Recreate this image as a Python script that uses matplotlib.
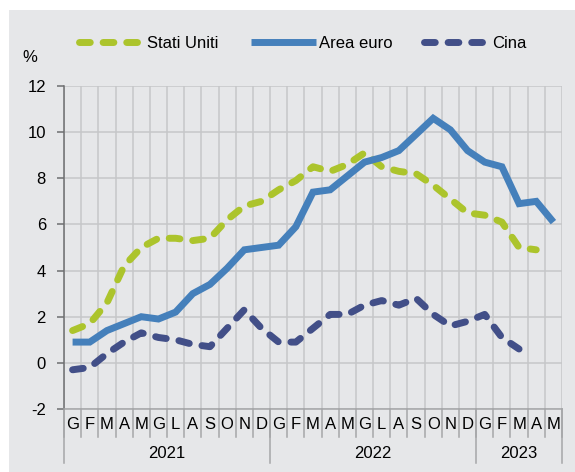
import matplotlib
matplotlib.use("Agg")
import matplotlib.pyplot as plt
from matplotlib.patches import Rectangle
import matplotlib.transforms as mtransforms

plt.rcParams['font.family'] = ['Liberation Sans', 'DejaVu Sans']

months = ["G", "F", "M", "A", "M", "G", "L", "A", "S", "O", "N", "D",
          "G", "F", "M", "A", "M", "G", "L", "A", "S", "O", "N", "D",
          "G", "F", "M", "A", "M"]
years = ["2021", "2022", "2023"]
year_counts = [12, 12, 5]

stati_uniti = [1.4, 1.7, 2.6, 4.2, 5.0, 5.4, 5.4, 5.3, 5.4, 6.2, 6.8, 7.0,
               7.5, 7.9, 8.5, 8.3, 8.6, 9.1, 8.5, 8.3, 8.2, 7.7, 7.1, 6.5,
               6.4, 6.1, 5.0, 4.9]
area_euro = [0.9, 0.9, 1.4, 1.7, 2.0, 1.9, 2.2, 3.0, 3.4, 4.1, 4.9, 5.0,
             5.1, 5.9, 7.4, 7.5, 8.1, 8.7, 8.9, 9.2, 9.9, 10.6, 10.1, 9.2,
             8.7, 8.5, 6.9, 7.0, 6.1]
cina = [-0.3, -0.2, 0.4, 0.9, 1.3, 1.1, 1.0, 0.8, 0.7, 1.5, 2.3, 1.5,
        0.9, 0.9, 1.5, 2.1, 2.1, 2.5, 2.7, 2.5, 2.8, 2.1, 1.6, 1.8,
        2.1, 1.1, 0.6]

GREEN = "#acc42c"
BLUE = "#4580bb"
NAVY = "#424f88"
BG = "#e6e7e9"
GRID = "#c6c7c9"

fig = plt.figure(figsize=(5.75, 4.72), dpi=100)
fig.patch.set_facecolor("white")
fig.patches.append(Rectangle((9/575, 0), 1 - 9/575, 1 - 10/472,
                             transform=fig.transFigure, facecolor=BG,
                             edgecolor="none", zorder=-10))

ax = fig.add_axes([64/575, 1 - 409/472, (562 - 64)/575, (409 - 86)/472])
ax.set_facecolor(BG)

n = len(months)
ax.set_xlim(-0.5, n - 0.5)
ax.set_ylim(-2, 12)

lw = 5.0
dash = (1.55, 1.85)
l1, = ax.plot(range(len(stati_uniti)), stati_uniti, color=GREEN, lw=lw,
              linestyle=(0, dash), dash_capstyle="round", solid_joinstyle="round",
              label="Stati Uniti", zorder=3)
l2, = ax.plot(range(len(area_euro)), area_euro, color=BLUE, lw=lw,
              solid_capstyle="butt", solid_joinstyle="miter",
              label="Area euro", zorder=4)
l3, = ax.plot(range(len(cina)), cina, color=NAVY, lw=lw,
              linestyle=(0, dash), dash_capstyle="round",
              label="Cina", zorder=3)

# grid
for i in range(n + 1):
    ax.axvline(i - 0.5, color=GRID, lw=1.1, zorder=1)
for y in range(-2, 13, 2):
    ax.axhline(y, color=GRID, lw=1.1, zorder=1)

for s in ["top", "right"]:
    ax.spines[s].set_visible(False)
ax.spines["bottom"].set_color("#a5a6a8")
ax.spines["bottom"].set_linewidth(1.1)
ax.spines["left"].set_color("#6d6e70")
ax.spines["left"].set_linewidth(1.1)

ax.set_yticks(range(-2, 13, 2))
ax.set_yticklabels([str(v) for v in range(-2, 13, 2)], fontsize=12)
ax.tick_params(axis="y", length=5, width=1.1, color="#6d6e70", pad=8)

ax.set_xticks(range(n))
ax.set_xticklabels(months, fontsize=12)
ax.tick_params(axis="x", length=0, pad=6)

trans = mtransforms.blended_transform_factory(ax.transData, ax.transAxes)
# month separators
for i in range(n + 1):
    ax.plot([i - 0.5, i - 0.5], [0, -28/323], color="#a5a6a8", lw=1.1,
            transform=trans, clip_on=False, zorder=2)
# year separators and labels
bounds = [0]
for c in year_counts:
    bounds.append(bounds[-1] + c)
for b in bounds:
    ax.plot([b - 0.5, b - 0.5], [0, -54/323], color="#a5a6a8", lw=1.1,
            transform=trans, clip_on=False, zorder=2)
for yl, a, b in zip(years, bounds[:-1], bounds[1:]):
    ax.text((a + b - 1) / 2, -44/323, yl, transform=trans, ha="center",
            va="center", fontsize=12)

fig.text(30/575, 1 - 58/472, "%", ha="center", va="center", fontsize=12)

leg = fig.legend(handles=[l1, l2, l3], loc="center", ncol=3,
                 bbox_to_anchor=(303/575, 1 - 43/472), frameon=False,
                 fontsize=12, handlelength=3.9, handletextpad=0.2,
                 columnspacing=1.9)

fig.savefig("out.png", dpi=100, facecolor=fig.get_facecolor())
